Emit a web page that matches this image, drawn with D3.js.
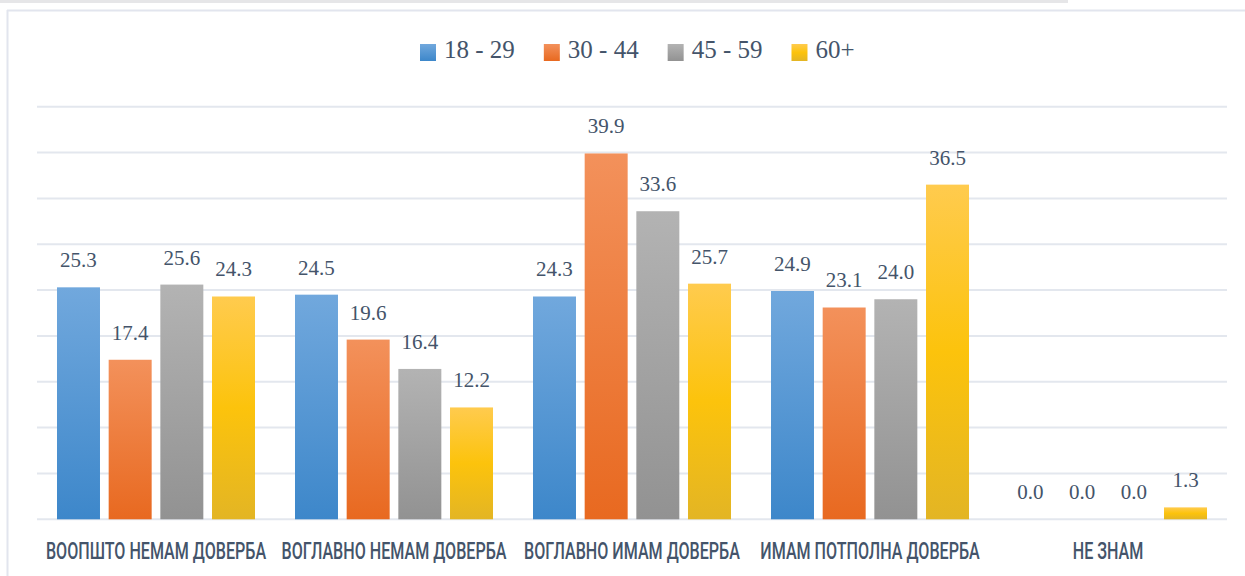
<!DOCTYPE html>
<html>
<head>
<meta charset="utf-8">
<script src="https://cdn.jsdelivr.net/npm/d3@7"></script>
<style>
  html, body { margin: 0; padding: 0; background: #ffffff; }
  svg { display: block; }
  .num { font-family: "Liberation Serif", "DejaVu Serif", "Noto Serif", "Times New Roman", serif; }
  .cat { font-family: Roboto, "Open Sans", sans-serif; }
</style>
</head>
<body>
<svg id="chart" width="1245" height="576"></svg>
<script>
const categories = ["ВООПШТО НЕМАМ ДОВЕРБА", "ВОГЛАВНО НЕМАМ ДОВЕРБА", "ВОГЛАВНО ИМАМ ДОВЕРБА", "ИМАМ ПОТПОЛНА ДОВЕРБА", "НЕ ЗНАМ"];
const seriesNames = ["18 - 29", "30 - 44", "45 - 59", "60+"];
const values18to29 = [25.3, 24.5, 24.3, 24.9, 0.0];
const values30to44 = [17.4, 19.6, 39.9, 23.1, 0.0];
const values45to59 = [25.6, 16.4, 33.6, 24.0, 0.0];
const values60plus = [24.3, 12.2, 25.7, 36.5, 1.3];
const gridTicks = [0, 5, 10, 15, 20, 25, 30, 35, 40, 45];

const seriesValues = [values18to29, values30to44, values45to59, values60plus];
const gradStops = [
  ["#71a8dd", "#3d87ca"],
  ["#f3915b", "#e86920"],
  ["#b3b3b3", "#929292"],
  ["#ffcb4e", "#fcc30c", "#e3b524"]
];
const textColor = "#44546a";

const svg = d3.select("#chart");

// background frame elements
svg.append("rect").attr("x", 0).attr("y", 0).attr("width", 1068).attr("height", 3).attr("fill", "#e6e6e8");
svg.append("line").attr("x1", 7).attr("x2", 1245).attr("y1", 10.5).attr("y2", 10.5)
  .attr("stroke", "#e2e5ee").attr("stroke-width", 2);
svg.append("line").attr("x1", 7.5).attr("x2", 7.5).attr("y1", 10).attr("y2", 576)
  .attr("stroke", "#e2e5ee").attr("stroke-width", 2);

// gradients
const defs = svg.append("defs");
gradStops.forEach((stops, i) => {
  const g = defs.append("linearGradient").attr("id", "grad" + i)
    .attr("x1", 0).attr("y1", 0).attr("x2", 0).attr("y2", 1);
  stops.forEach((c, j) => {
    g.append("stop").attr("offset", (j / (stops.length - 1) * 100) + "%").attr("stop-color", c);
  });
});

const plotLeft = 37, plotRight = 1227;
const y = d3.scaleLinear().domain([0, 45]).range([519.3, 106.7]);
const x0 = d3.scaleBand().domain(categories).range([plotLeft, plotRight]).padding(0);
const x1 = d3.scaleBand().domain(seriesNames).range([0, x0.bandwidth()])
  .paddingInner(0.168).paddingOuter(0.387);

// gridlines
svg.append("g").selectAll("line").data(gridTicks).join("line")
  .attr("x1", plotLeft).attr("x2", plotRight)
  .attr("y1", d => y(d)).attr("y2", d => y(d))
  .attr("stroke", "#e3e7ee").attr("stroke-width", 2);

// bars
const groups = svg.append("g").selectAll("g").data(categories).join("g")
  .attr("transform", d => `translate(${x0(d)},0)`);

groups.each(function(cat, ci) {
  const g = d3.select(this);
  const rows = seriesNames.map((s, si) => ({ s, si, v: seriesValues[si][ci] }));
  g.selectAll("rect").data(rows).join("rect")
    .attr("x", d => x1(d.s))
    .attr("width", x1.bandwidth())
    .attr("y", d => y(d.v))
    .attr("height", d => y(0) - y(d.v))
    .attr("fill", d => `url(#grad${d.si})`);
  g.selectAll("text").data(rows).join("text")
    .attr("class", "num")
    .attr("x", d => x1(d.s) + x1.bandwidth() / 2)
    .attr("y", d => y(d.v) - 20)
    .attr("text-anchor", "middle")
    .attr("font-size", 21)
    .attr("fill", textColor)
    .text(d => d.v.toFixed(1));
});

// category labels (condensed look via horizontal scale)
const squeeze = 0.70;
svg.append("g").selectAll("text").data(categories).join("text")
  .attr("class", "cat")
  .attr("transform", d => `translate(${x0(d) + x0.bandwidth() / 2},559) scale(${squeeze},1)`)
  .attr("text-anchor", "middle")
  .attr("font-size", 23)
  .attr("font-weight", 500)
  .attr("fill", textColor)
  .text(d => d);

// legend
const legend = svg.append("g");
let lx = 420;
seriesNames.forEach((s, i) => {
  legend.append("rect").attr("x", lx).attr("y", 44).attr("width", 16).attr("height", 17)
    .attr("fill", `url(#grad${i})`);
  const t = legend.append("text").attr("class", "num").attr("x", lx + 24).attr("y", 58)
    .attr("font-size", 25).attr("fill", textColor).text(s);
  lx += 24 + t.node().getComputedTextLength() + 29;
});
</script>
</body>
</html>
